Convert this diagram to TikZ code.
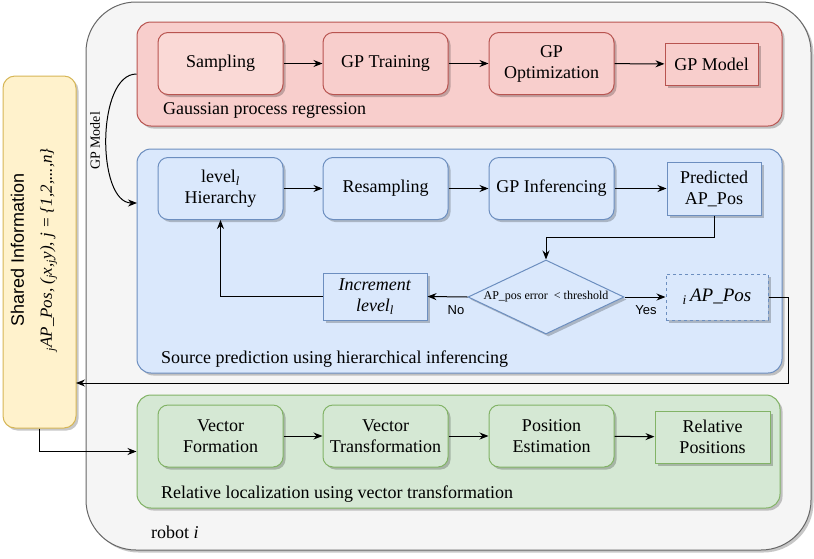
\documentclass[tikz,border=0pt]{standalone}
\usepackage{fontspec}
\setmainfont{Liberation Serif}
\setsansfont{Liberation Sans}
\usepackage{tikz}
\usetikzlibrary{arrows.meta,positioning,calc,shapes.geometric,shadows}

\definecolor{redfill}{HTML}{F8CECC}
\definecolor{redline}{HTML}{B85450}
\definecolor{redlight}{HTML}{FAD9D6}
\definecolor{bluefill}{HTML}{DAE8FC}
\definecolor{blueline}{HTML}{6C8EBF}
\definecolor{greenfill}{HTML}{D5E8D4}
\definecolor{greenline}{HTML}{82B366}
\definecolor{yellowfill}{HTML}{FFF2CC}
\definecolor{yellowline}{HTML}{D6B656}
\definecolor{grayfill}{HTML}{F5F5F5}
\definecolor{grayline}{HTML}{666666}

\begin{document}
\begin{tikzpicture}[x=1pt, y=-1pt,
  shade/.style={drop shadow={shadow xshift=2.5pt, shadow yshift=-2.5pt, fill=black, opacity=0.22}},
  group/.style={shade, rounded corners=14pt, line width=1pt},
  proc/.style={shade, rounded corners=10pt, line width=1pt, minimum width=125pt, minimum height=62pt,
    align=center, inner sep=1pt, font=\fontsize{18}{21}\selectfont},
  outbox/.style={shade, line width=1pt, align=center, inner sep=1pt, font=\fontsize{18}{21}\selectfont},
  rcol/.style={fill=redfill, draw=redline},
  bcol/.style={fill=bluefill, draw=blueline},
  gcol/.style={fill=greenfill, draw=greenline},
  grouplab/.style={anchor=west, inner sep=0pt, font=\fontsize{18}{21}\selectfont},
  answer/.style={inner sep=1pt, font=\sffamily\fontsize{13}{15}\selectfont},
  arr/.style={line width=1pt, -{Stealth[length=9pt, width=7pt]}}
]
\useasboundingbox (0,0) rectangle (814,558);

\node[shade, draw=grayline, fill=grayfill, line width=1pt, rounded corners=50pt,
  minimum width=725pt, minimum height=548pt] (robot) at (448.5,276) {};
\node[grouplab] (robotlab) at (151,532) {robot \textit{i}};

\node[group, rcol, minimum width=645pt, minimum height=104pt] (gpr) at (459.5,74) {};
\node[group, bcol, minimum width=645pt, minimum height=224pt] (spred) at (459.5,261) {};
\node[group, gcol, minimum width=643pt, minimum height=113pt] (rloc) at (458.5,451.5) {};
\node[grouplab] (gprlab) at (163,110) {Gaussian process regression};
\node[grouplab] (spredlab) at (161,359) {Source prediction using hierarchical inferencing};
\node[grouplab] (rloclab) at (161,494) {Relative localization using vector transformation};

\node[shade, fill=yellowfill, draw=yellowline, line width=1pt, rounded corners=12pt,
  minimum width=73pt, minimum height=352pt] (shared) at (39.5,252) {};
\node[rotate=90, align=center, font=\fontsize{18}{24}\selectfont] (sharedtxt) at (34,250)
  {{\sffamily Shared Information}\\[4pt]
   {\fontsize{17}{20}\selectfont\textit{\textsubscript{j}AP\_Pos, (\textsubscript{j}x,\textsubscript{j}y), j = \{1,2,...,n\}}}};

\node[proc, fill=redlight, draw=redline] (samp) at (220.5,63.5) {Sampling};
\node[proc, rcol] (gptrain) at (385.5,63.5) {GP Training};
\node[proc, rcol] (gpopt) at (551.5,63.5) {GP\\Optimization};
\node[outbox, rcol, minimum width=93pt, minimum height=42pt] (gpmodel) at (711.5,64) {GP Model};

\node[proc, bcol] (level) at (220.5,188.5) {level\textsubscript{\textit{l}}\\Hierarchy};
\node[proc, bcol] (resamp) at (385.5,188.5) {Resampling};
\node[proc, bcol] (gpinf) at (551.5,188.5) {GP Inferencing};
\node[outbox, bcol, minimum width=94pt, minimum height=53pt] (pred) at (714,188.5) {Predicted\\AP\_Pos};
\node[diamond, shade, bcol, line width=1pt, aspect=2.1, inner sep=0pt, minimum width=156pt,
  minimum height=74pt, font=\fontsize{12}{14}\selectfont] (check) at (546,297) {AP\_pos error~~< threshold};
\node[outbox, bcol, minimum width=104pt, minimum height=47pt] (incr) at (375,296.5)
  {\textit{Increment}\\\textit{level\textsubscript{l}}};
\node[outbox, bcol, dashed, minimum width=102pt, minimum height=46pt,
  font=\fontsize{19}{21}\selectfont] (ipos) at (717,297) {\textit{\textsubscript{i}\,AP\_Pos}};
\node[answer] (no) at (456,310) {No};
\node[answer] (yes) at (646,310) {Yes};

\node[proc, gcol] (vform) at (220.5,436) {Vector\\Formation};
\node[proc, gcol] (vtrans) at (385.5,436) {Vector\\Transformation};
\node[proc, gcol] (posest) at (551.5,436) {Position\\Estimation};
\node[outbox, gcol, minimum width=115pt, minimum height=52pt] (relpos) at (712.5,437) {Relative\\Positions};

\coordinate (gpin) at (137,203);
\coordinate (shin) at (76,383);
\node[rotate=90, inner sep=1pt, font=\fontsize{14}{16}\selectfont] (gplab) at (95,141) {GP Model};

\draw[arr] (samp) -- (gptrain);
\draw[arr] (gptrain) -- (gpopt);
\draw[arr] (gpopt) -- (gpmodel);
\draw[arr] (gpr.west) to[out=180, in=180, looseness=0.8] (gpin);

\draw[arr] (level) -- (resamp);
\draw[arr] (resamp) -- (gpinf);
\draw[arr] (gpinf) -- (pred);
\draw[arr] (pred.south) -- ++(0,22) -| (check.north);
\draw[arr] (check.west) -- (incr.east);
\draw[arr] (check.east) -- (ipos.west);
\draw[arr] (incr.west) -| (level.south);
\draw[arr] (ipos.east) -- ++(20,0) |- (shin);

\draw[arr] (shared.south) |- (rloc.west);
\draw[arr] (vform) -- (vtrans);
\draw[arr] (vtrans) -- (posest);
\draw[arr] (posest) -- (relpos);
\end{tikzpicture}
\end{document}
